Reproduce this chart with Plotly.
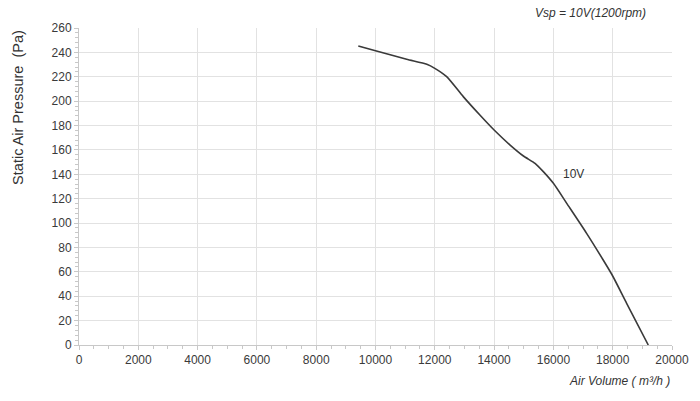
import plotly.graph_objects as go

air_volume = [9420, 10000, 11050, 11730, 12000, 12400, 12960, 13520, 14000, 14540,
              14990, 15380, 15660, 16000, 16450, 17120, 17680, 18000, 18470, 19200]
static_pressure = [245.2, 241.4, 234.3, 230.2, 226.9, 220.1, 203.7, 188.6, 176.3, 164.0,
                   155.0, 149.0, 142.2, 132.6, 116.2, 91.6, 69.7, 56.6, 34.2, 0]
curve_label = "10V"
label_x, label_y = 16670, 140
title_text = "Vsp = 10V(1200rpm)"
x_title = "Air Volume ( m³/h )"
y_title = "Static Air Pressure  (Pa)"

FONT = "Liberation Sans, Arial"

fig = go.Figure()
fig.add_trace(go.Scatter(
    x=air_volume, y=static_pressure, mode="lines",
    line=dict(color="#3a3a3a", width=1.6, shape="spline", smoothing=0.6),
    showlegend=False, hoverinfo="skip"))

fig.add_annotation(x=label_x, y=label_y, text=curve_label, showarrow=False,
                   font=dict(family=FONT, size=12, color="#333"))
fig.add_annotation(x=1, y=1, xref="paper", yref="paper", xshift=-24, yshift=15,
                   xanchor="right", yanchor="middle", showarrow=False,
                   text="<i>" + title_text + "</i>",
                   font=dict(family=FONT, size=12, color="#333"))
fig.add_annotation(x=1, y=0, xref="paper", yref="paper", yshift=-36,
                   xanchor="right", yanchor="middle", showarrow=False,
                   text="<i>" + x_title + "</i>",
                   font=dict(family=FONT, size=12, color="#333"))
fig.add_annotation(x=0, y=0.748, xref="paper", yref="paper", xshift=-61,
                   xanchor="center", yanchor="middle", showarrow=False, textangle=-90,
                   text=y_title,
                   font=dict(family=FONT, size=14.5, color="#333"))

axis_common = dict(
    showgrid=True, gridcolor="#e2e2e2", gridwidth=1,
    showline=True, linecolor="#c8c8c8", linewidth=1,
    ticks="outside", ticklen=4, tickcolor="#c8c8c8",
    tickfont=dict(family=FONT, size=12, color="#3a3a3a"),
    zeroline=False, fixedrange=True,
)
fig.update_xaxes(range=[0, 20000], dtick=2000, tick0=0, tickformat="d",
                 minor=dict(dtick=500, ticks="outside", ticklen=3, tickcolor="#c8c8c8", showgrid=False),
                 **axis_common)
fig.update_yaxes(range=[0, 260], dtick=20, tick0=0, tickformat="d",
                 minor=dict(dtick=4, ticks="outside", ticklen=3, tickcolor="#c8c8c8", showgrid=False),
                 **axis_common)

fig.update_layout(
    width=700, height=401,
    margin=dict(l=79, r=28, t=28, b=56),
    paper_bgcolor="white", plot_bgcolor="white",
    font=dict(family=FONT, color="#333"),
)
fig.write_html("out.html", config={"displayModeBar": False},
               post_script="document.body.style.margin='0';")
